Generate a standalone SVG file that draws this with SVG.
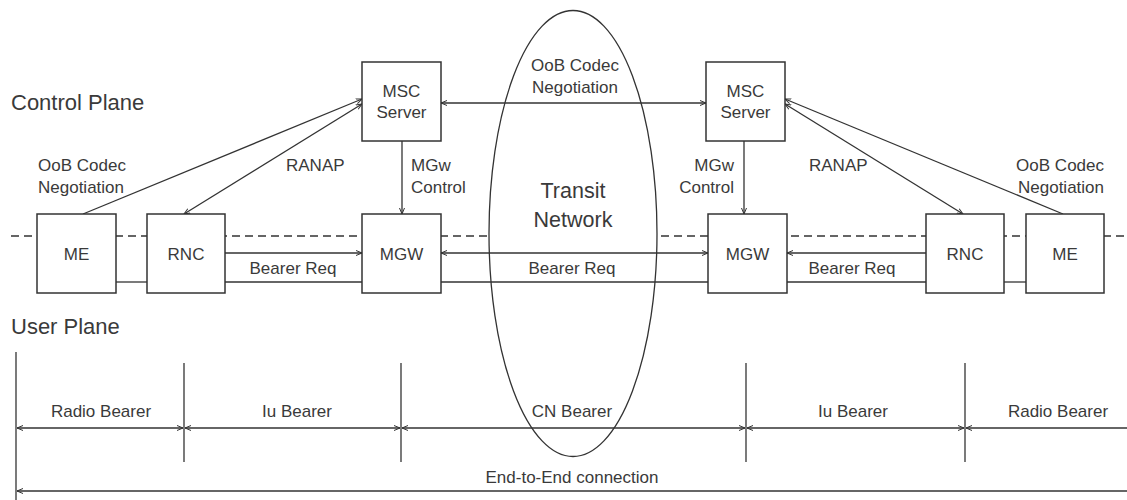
<svg xmlns="http://www.w3.org/2000/svg" width="1127" height="500" viewBox="0 0 1127 500">
<defs>
<marker id="ah" markerUnits="userSpaceOnUse" markerWidth="8" markerHeight="8" refX="6" refY="3" orient="auto-start-reverse" viewBox="0 0 8 6">
<path d="M0,0.5 L6,3 L0,5.5" fill="none" stroke="#333" stroke-width="1"/>
</marker>
<style>
.box{fill:#fff;stroke:#333;stroke-width:1.5}
.ln{fill:none;stroke:#333;stroke-width:1.3}
.dash{fill:none;stroke:#333;stroke-width:1.3;stroke-dasharray:8,5}
.t{font-family:"Liberation Sans",Arial,sans-serif;font-size:17px;fill:#3a3a3a}
.c{text-anchor:middle}
.e{text-anchor:end}
.big{font-size:22px}
.mid{font-size:21.5px}
</style>
</defs>
<rect width="1127" height="500" fill="#fff"/>
<line class="dash" x1="11" y1="236" x2="1127" y2="236"/>
<ellipse id="transit" cx="573" cy="233.5" rx="84" ry="223" fill="#fff" stroke="#333" stroke-width="1.3"/>
<text class="t big" x="11" y="110">Control Plane</text>
<text class="t big" x="11" y="334">User Plane</text>
<text class="t mid c" x="573" y="198">Transit</text>
<text class="t mid c" x="573" y="227">Network</text>
<g id="connectors">
<line class="ln" x1="441" y1="103" x2="706" y2="103" marker-start="url(#ah)" marker-end="url(#ah)"/>
<line class="ln" x1="83" y1="214" x2="362" y2="99" marker-end="url(#ah)"/>
<line class="ln" x1="184" y1="214" x2="362" y2="104" marker-start="url(#ah)" marker-end="url(#ah)"/>
<line class="ln" x1="1063" y1="214" x2="785" y2="99" marker-end="url(#ah)"/>
<line class="ln" x1="963" y1="214" x2="785" y2="104" marker-start="url(#ah)" marker-end="url(#ah)"/>
<line class="ln" x1="402" y1="141" x2="402" y2="214" marker-end="url(#ah)"/>
<line class="ln" x1="744" y1="141" x2="744" y2="214" marker-end="url(#ah)"/>
<line class="ln" x1="116" y1="282" x2="147" y2="282"/>
<line class="ln" x1="225" y1="253" x2="362" y2="253" marker-end="url(#ah)"/>
<line class="ln" x1="225" y1="282" x2="362" y2="282"/>
<line class="ln" x1="441" y1="253" x2="708" y2="253" marker-start="url(#ah)" marker-end="url(#ah)"/>
<line class="ln" x1="441" y1="282" x2="708" y2="282"/>
<line class="ln" x1="926" y1="253" x2="787" y2="253" marker-end="url(#ah)"/>
<line class="ln" x1="787" y1="282" x2="926" y2="282"/>
<line class="ln" x1="1004" y1="282" x2="1026" y2="282"/>
<line class="ln" x1="16" y1="352" x2="16" y2="500"/>
<line class="ln" x1="184" y1="363" x2="184" y2="462"/>
<line class="ln" x1="401" y1="363" x2="401" y2="462"/>
<line class="ln" x1="746" y1="363" x2="746" y2="462"/>
<line class="ln" x1="965" y1="363" x2="965" y2="462"/>
<line class="ln" x1="17" y1="428" x2="183" y2="428" marker-start="url(#ah)" marker-end="url(#ah)"/>
<line class="ln" x1="185" y1="428" x2="400" y2="428" marker-start="url(#ah)" marker-end="url(#ah)"/>
<line class="ln" x1="402" y1="428" x2="745" y2="428" marker-start="url(#ah)" marker-end="url(#ah)"/>
<line class="ln" x1="747" y1="428" x2="964" y2="428" marker-start="url(#ah)" marker-end="url(#ah)"/>
<line class="ln" x1="966" y1="428" x2="1127" y2="428" marker-start="url(#ah)"/>
<line class="ln" x1="17" y1="491" x2="1127" y2="491" marker-start="url(#ah)"/>
</g>
<g id="labels">
<text class="t c" x="575" y="71">OoB Codec</text>
<text class="t c" x="575" y="93">Negotiation</text>
<text class="t" x="38" y="171">OoB Codec</text>
<text class="t" x="38" y="193">Negotiation</text>
<text class="t e" x="1104" y="171">OoB Codec</text>
<text class="t e" x="1104" y="193">Negotiation</text>
<text class="t" x="286" y="171">RANAP</text>
<text class="t" x="809" y="171">RANAP</text>
<text class="t" x="411" y="171">MGw</text>
<text class="t" x="411" y="193">Control</text>
<text class="t e" x="734" y="171">MGw</text>
<text class="t e" x="734" y="193">Control</text>
<text class="t c" x="293" y="274">Bearer Req</text>
<text class="t c" x="572" y="274">Bearer Req</text>
<text class="t c" x="852" y="274">Bearer Req</text>
<text class="t c" x="101" y="417">Radio Bearer</text>
<text class="t c" x="297" y="417">Iu Bearer</text>
<text class="t c" x="572" y="417">CN Bearer</text>
<text class="t c" x="853" y="417">Iu Bearer</text>
<text class="t c" x="1058" y="417">Radio Bearer</text>
<text class="t c" x="572" y="483">End-to-End connection</text>
</g>
<g id="msc-left"><rect class="box" x="362" y="62" width="79" height="79"/><text class="t c" x="401.5" y="97">MSC</text><text class="t c" x="401.5" y="118">Server</text></g>
<g id="msc-right"><rect class="box" x="706" y="62" width="79" height="79"/><text class="t c" x="745.5" y="97">MSC</text><text class="t c" x="745.5" y="118">Server</text></g>
<g id="me-left"><rect class="box" x="37" y="214" width="79" height="79"/><text class="t c" x="76.5" y="260">ME</text></g>
<g id="rnc-left"><rect class="box" x="147" y="214" width="78" height="79"/><text class="t c" x="186" y="260">RNC</text></g>
<g id="mgw-left"><rect class="box" x="362" y="214" width="79" height="79"/><text class="t c" x="401.5" y="260">MGW</text></g>
<g id="mgw-right"><rect class="box" x="708" y="214" width="79" height="79"/><text class="t c" x="747.5" y="260">MGW</text></g>
<g id="rnc-right"><rect class="box" x="926" y="214" width="78" height="79"/><text class="t c" x="965" y="260">RNC</text></g>
<g id="me-right"><rect class="box" x="1026" y="214" width="78" height="79"/><text class="t c" x="1065" y="260">ME</text></g>
</svg>
